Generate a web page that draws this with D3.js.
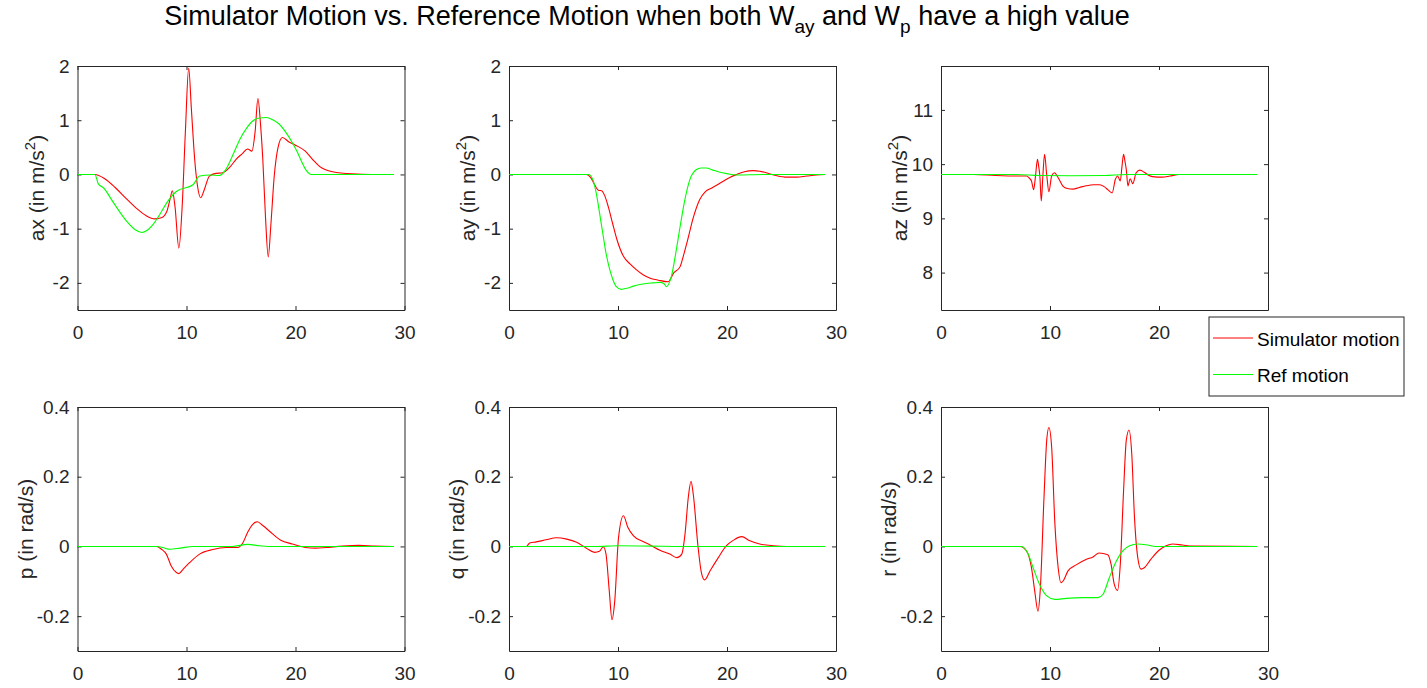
<!DOCTYPE html>
<html>
<head>
<meta charset="utf-8">
<script src="https://cdn.jsdelivr.net/npm/d3@7"></script>
<style>
   body { margin: 0; background: #fff; }
   text { font-family: "Liberation Sans", Arial, sans-serif; fill: #262626; }
</style>
</head>
<body>
<div id="chart"></div>
<script>
// simulator vs reference motion, 2x3 grid
var svgWidth = 1427;
var svgHeight = 688;

// data, [time, value]
var axSim = [[0,0],[1.6,0],[2.5,-0.08],[3.5,-0.25],[4.5,-0.45],[5.5,-0.64],[6.3,-0.76],[7.1,-0.82],[7.7,-0.8],[8.2,-0.68],[8.5,-0.45],[8.7,-0.3],[8.95,-0.6],[9.3,-1.36],[9.6,-0.6],[9.9,0.8],[10.2,1.96],[10.45,1.2],[10.75,0.28],[11.0,-0.2],[11.3,-0.43],[11.6,-0.3],[12.1,-0.03],[12.7,0.02],[13.3,0.03],[14.0,0.14],[14.55,0.28],[15.1,0.38],[15.6,0.47],[16.0,0.43],[16.3,0.8],[16.55,1.40],[16.8,0.9],[17.0,0.28],[17.25,-0.8],[17.5,-1.52],[17.75,-0.9],[18.05,-0.03],[18.4,0.5],[18.8,0.68],[19.4,0.6],[20.0,0.54],[20.9,0.43],[21.6,0.27],[22.2,0.15],[23.4,0.05],[25.2,0.01],[27,0],[29,0]];
var axRef = [[0,0],[1.6,0],[1.9,-0.17],[2.4,-0.25],[3.3,-0.52],[4.5,-0.86],[5.3,-1.02],[5.9,-1.07],[6.4,-1.03],[6.9,-0.93],[7.6,-0.72],[8.2,-0.52],[9.1,-0.31],[10.6,-0.19],[11.2,-0.03],[12.2,-0.01],[13.0,-0.02],[13.6,0.09],[14.3,0.38],[14.9,0.65],[15.5,0.85],[16.1,0.99],[16.7,1.04],[17.3,1.05],[17.9,1.01],[18.5,0.93],[19.1,0.78],[19.7,0.59],[20.2,0.4],[20.6,0.22],[21.0,0.07],[21.3,0.01],[21.55,0],[29,0]];

var aySim = [[0,0],[7.1,0],[7.5,-0.06],[7.8,-0.17],[8.2,-0.29],[8.5,-0.3],[8.8,-0.4],[9.1,-0.59],[9.5,-0.9],[9.9,-1.2],[10.5,-1.51],[11.1,-1.65],[11.7,-1.76],[12.3,-1.85],[12.9,-1.91],[13.7,-1.95],[14.6,-1.98],[15.1,-1.82],[15.7,-1.70],[16.0,-1.5],[16.4,-1.2],[16.9,-0.8],[17.5,-0.46],[18.0,-0.32],[18.6,-0.25],[19.2,-0.18],[19.7,-0.12],[20.3,-0.05],[20.9,0],[21.6,0.05],[22.4,0.07],[23.0,0.06],[23.6,0.03],[24.5,-0.02],[25.5,-0.05],[26.4,-0.05],[27.3,-0.03],[28.2,-0.01],[29,0]];
var ayRef = [[0,0],[7.3,0],[7.7,-0.1],[8.0,-0.34],[8.3,-0.7],[8.6,-1.08],[8.9,-1.45],[9.25,-1.76],[9.55,-1.95],[9.85,-2.07],[10.3,-2.12],[10.8,-2.1],[11.4,-2.06],[12.0,-2.03],[12.6,-2.01],[13.2,-2.0],[13.85,-1.99],[14.2,-2.01],[14.45,-2.07],[14.7,-2.0],[14.9,-1.88],[15.3,-1.45],[15.7,-0.96],[16.1,-0.5],[16.6,-0.09],[17.2,0.09],[17.6,0.12],[18.1,0.12],[18.7,0.08],[19.35,0.04],[20.1,0.01],[20.9,-0.01],[23.3,0],[29,0]];

var azSim = [[0,9.81],[3,9.81],[5,9.79],[7,9.78],[7.85,9.78],[8.1,9.74],[8.3,9.69],[8.5,9.53],[8.68,9.8],[8.85,10.09],[8.97,9.95],[9.07,9.78],[9.2,9.32],[9.35,9.8],[9.5,10.18],[9.7,9.8],[9.9,9.49],[10.15,9.78],[10.4,9.84],[10.75,9.75],[11.2,9.59],[11.6,9.55],[12.1,9.54],[12.7,9.57],[13.3,9.60],[14.0,9.62],[14.55,9.62],[15.0,9.58],[15.3,9.53],[15.7,9.47],[16.0,9.72],[16.2,9.78],[16.45,9.69],[16.6,9.95],[16.75,10.18],[16.88,10.05],[17.0,9.9],[17.15,9.6],[17.35,9.73],[17.6,9.64],[17.9,9.84],[18.25,9.89],[18.65,9.85],[19.0,9.8],[19.4,9.77],[20.3,9.76],[21.0,9.78],[21.85,9.81],[29,9.81]];
var azRef = [[0,9.81],[7,9.81],[9,9.79],[12,9.785],[15,9.79],[17,9.81],[29,9.81]];

var pSim = [[0,0],[7.25,0],[7.7,-0.008],[8.15,-0.022],[8.6,-0.056],[9.07,-0.075],[9.3,-0.078],[9.7,-0.065],[10.3,-0.046],[11.2,-0.022],[12.4,-0.009],[13.6,-0.003],[14.7,-0.003],[15.15,0.009],[15.6,0.04],[16.1,0.064],[16.5,0.071],[17.0,0.06],[17.75,0.04],[18.65,0.018],[19.7,0.007],[20.9,-0.003],[21.85,-0.005],[22.8,-0.003],[24.3,0.001],[25.8,0.003],[27.3,0.001],[29,0]];
var pRef = [[0,0],[7.3,0],[7.9,-0.004],[8.45,-0.008],[9.4,-0.005],[10.6,0],[14.2,0],[15.6,0.006],[16.7,0.002],[17.5,0],[29,0]];

var qSim = [[0,0],[1.6,0],[1.9,0.01],[2.5,0.013],[3.4,0.019],[4.35,0.025],[5.3,0.021],[6.2,0.012],[7.1,-0.005],[7.85,-0.017],[8.3,-0.014],[8.65,-0.001],[8.9,-0.022],[9.2,-0.128],[9.45,-0.21],[9.7,-0.157],[10.05,0.026],[10.5,0.088],[10.9,0.055],[11.4,0.031],[12.3,0.014],[12.9,0.005],[13.85,-0.011],[14.75,-0.022],[15.4,-0.032],[15.85,-0.022],[16.15,0.036],[16.45,0.141],[16.7,0.187],[16.9,0.151],[17.35,-0.003],[17.65,-0.075],[17.95,-0.096],[18.45,-0.07],[19.2,-0.032],[19.95,0.002],[20.6,0.018],[21.35,0.028],[22.1,0.016],[23.0,0.007],[24.25,0.002],[25.5,0],[29,0]];
var qRef = [[0,0],[8,0],[10,0.002],[13,0.001],[16,0],[29,0]];

var rSim = [[0,0],[7.25,0],[7.85,-0.013],[8.3,-0.061],[8.6,-0.128],[8.9,-0.186],[9.1,-0.128],[9.45,0.141],[9.7,0.305],[9.9,0.341],[10.15,0.285],[10.45,0.064],[10.75,-0.061],[11.0,-0.104],[11.25,-0.097],[11.65,-0.07],[12.4,-0.053],[13.35,-0.037],[13.95,-0.03],[14.5,-0.019],[15.3,-0.024],[15.6,-0.051],[15.9,-0.109],[16.2,-0.126],[16.45,-0.051],[16.75,0.16],[17.0,0.305],[17.25,0.334],[17.5,0.266],[17.75,0.084],[18.05,-0.032],[18.35,-0.065],[18.65,-0.061],[19.25,-0.037],[20.0,-0.011],[20.65,0.002],[21.25,0.007],[22.15,0.004],[23.1,0.001],[29,0]];
var rRef = [[0,0],[7.4,0],[8.0,-0.022],[8.45,-0.061],[9.1,-0.113],[9.7,-0.142],[10.45,-0.152],[11.5,-0.149],[13.0,-0.147],[14.4,-0.147],[14.85,-0.138],[15.45,-0.089],[16.1,-0.041],[16.7,-0.012],[17.3,0.002],[18.05,0.007],[18.8,0.005],[19.7,0],[29,0]];

// axis ticks
var xTicks = [0, 10, 20, 30];
var accTicks = [-2, -1, 0, 1, 2];
var azTicks = [8, 9, 10, 11];
var rateTicks = [-0.2, 0, 0.2, 0.4];

var panels = [
   { sim: axSim, ref: axRef, y: [-2.5, 2], ticks: accTicks, label: "ax (in m/s", sup: true, col: 0, row: 0 },
   { sim: aySim, ref: ayRef, y: [-2.5, 2], ticks: accTicks, label: "ay (in m/s", sup: true, col: 1, row: 0 },
   { sim: azSim, ref: azRef, y: [7.31, 11.81], ticks: azTicks, label: "az (in m/s", sup: true, col: 2, row: 0 },
   { sim: pSim, ref: pRef, y: [-0.3, 0.4], ticks: rateTicks, label: "p (in rad/s)", sup: false, col: 0, row: 1 },
   { sim: qSim, ref: qRef, y: [-0.3, 0.4], ticks: rateTicks, label: "q (in rad/s)", sup: false, col: 1, row: 1 },
   { sim: rSim, ref: rRef, y: [-0.3, 0.4], ticks: rateTicks, label: "r (in rad/s)", sup: false, col: 2, row: 1 }
];

var colLeft = [77.5, 509, 941];
var rowTop = [66, 407];
var labelOffset = [-34, -45];
var plotW = 327;
var plotH = 244;

var svg = d3.select("#chart")
   .append("svg")
   .attr("width", svgWidth)
   .attr("height", svgHeight);

// title with subscripts
var title = svg.append("text")
   .attr("x", 647)
   .attr("y", 25)
   .attr("text-anchor", "middle")
   .style("font-size", "27px")
   .style("fill", "#000");
title.append("tspan").text("Simulator Motion vs. Reference Motion when both W");
title.append("tspan").attr("dy", 8).style("font-size", "19px").text("ay");
title.append("tspan").attr("dy", -8).text(" and W");
title.append("tspan").attr("dy", 8).style("font-size", "19px").text("p");
title.append("tspan").attr("dy", -8).text(" have a high value");

panels.forEach(function (p) {
   var g = svg.append("g")
      .attr("transform", `translate(${colLeft[p.col]}, ${rowTop[p.row]})`);

   var x = d3.scaleLinear().domain([0, 30]).range([0, plotW]);
   var y = d3.scaleLinear().domain(p.y).range([plotH, 0]);

   // the az "30" sits under the legend in the original, leave it out
   var xFormat = function (d) {
      if (p.col === 2 && p.row === 0 && d === 30) return "";
      return String(d);
   };

   // axes, ticks inward on all sides
   var bottomAxis = d3.axisBottom(x).tickValues(xTicks).tickSizeInner(-4).tickSizeOuter(0).tickPadding(16)
      .tickFormat(xFormat);
   var leftAxis = d3.axisLeft(y).tickValues(p.ticks).tickSizeInner(-4).tickSizeOuter(0).tickPadding(8)
      .tickFormat(d => String(d));
   var topAxis = d3.axisTop(x).tickValues(xTicks).tickSizeInner(-4).tickSizeOuter(0).tickFormat("");
   var rightAxis = d3.axisRight(y).tickValues(p.ticks).tickSizeInner(-4).tickSizeOuter(0).tickFormat("");

   g.append("g").attr("transform", `translate(0, ${plotH})`).call(bottomAxis);
   g.append("g").call(leftAxis);
   g.append("g").call(topAxis);
   g.append("g").attr("transform", `translate(${plotW}, 0)`).call(rightAxis);

   g.selectAll(".domain").attr("stroke", "#262626");
   g.selectAll(".tick line").attr("stroke", "#262626");
   g.selectAll(".tick text")
      .style("font-size", "19px")
      .style("font-family", "'Liberation Sans', Arial, sans-serif")
      .attr("fill", "#262626");

   // clip lines to the axes box
   var clipId = "clip" + p.col + p.row;
   g.append("clipPath").attr("id", clipId)
      .append("rect").attr("width", plotW).attr("height", plotH);

   var line = d3.line()
      .x(d => x(d[0]))
      .y(d => y(d[1]))
      .curve(d3.curveMonotoneX);

   g.append("path")
      .datum(p.sim)
      .attr("clip-path", `url(#${clipId})`)
      .attr("fill", "none")
      .attr("stroke", "#ff0000")
      .attr("stroke-width", 1.1)
      .attr("d", line);

   g.append("path")
      .datum(p.ref)
      .attr("clip-path", `url(#${clipId})`)
      .attr("fill", "none")
      .attr("stroke", "#00ff00")
      .attr("stroke-width", 1.1)
      .attr("d", line);

   // y label
   var lab = g.append("text")
      .attr("transform", `translate(${labelOffset[p.row]}, ${plotH / 2}) rotate(-90)`)
      .attr("text-anchor", "middle")
      .style("font-size", "21px");
   lab.append("tspan").text(p.label);
   if (p.sup) {
      lab.append("tspan").attr("dy", -9).style("font-size", "15px").text("2");
      lab.append("tspan").attr("dy", 9).text(")");
   }
});

// legend
var legend = svg.append("g").attr("transform", "translate(1209, 317)");
legend.append("rect")
   .attr("width", 195)
   .attr("height", 79)
   .attr("fill", "#fff")
   .attr("stroke", "#262626")
   .attr("stroke-width", 1);

var legendItems = [["Simulator motion", "#ff0000"], ["Ref motion", "#00ff00"]];
legendItems.forEach(function (item, i) {
   var yy = 21 + i * 36.5;
   legend.append("line")
      .attr("x1", 4).attr("x2", 44)
      .attr("y1", yy).attr("y2", yy)
      .attr("stroke", item[1])
      .attr("stroke-width", 1);
   legend.append("text")
      .attr("x", 48)
      .attr("y", yy + 7.5)
      .style("font-size", "19px")
      .style("fill", "#000")
      .text(item[0]);
});
</script>
</body>
</html>
